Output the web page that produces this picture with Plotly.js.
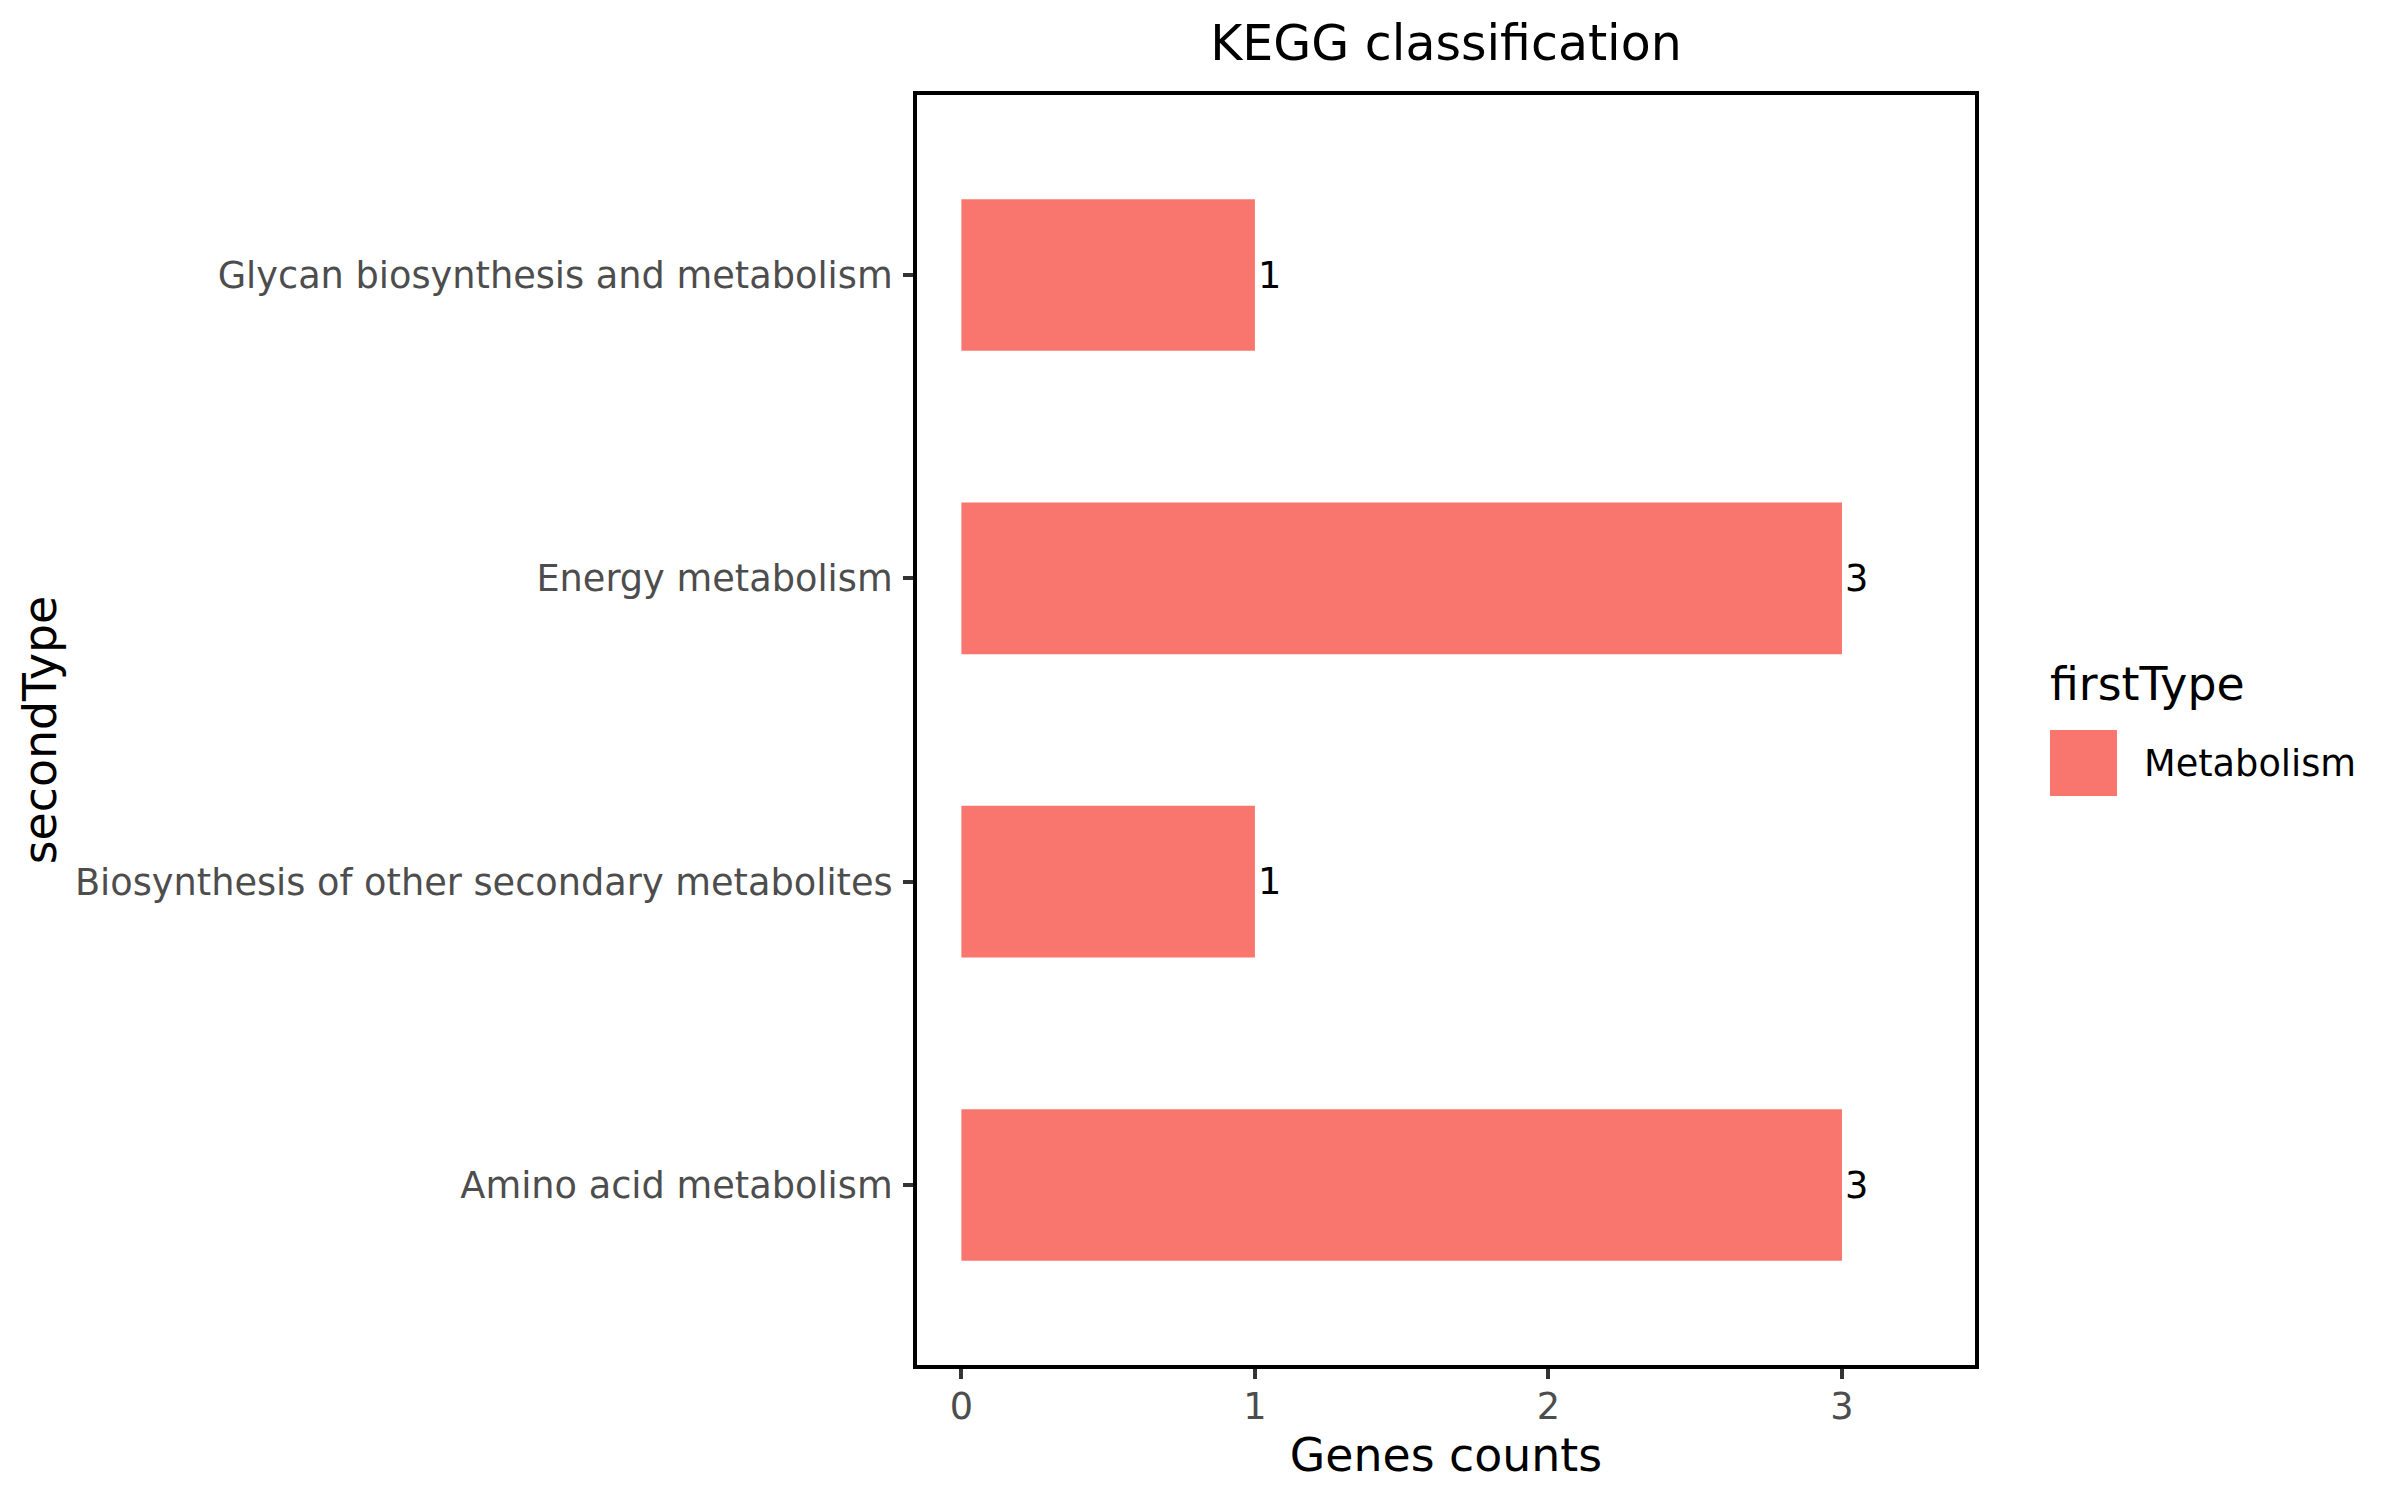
<!DOCTYPE html>
<html>
<head>
<meta charset="utf-8">
<script src="https://cdn.plot.ly/plotly-3.0.1.min.js"></script>
<style>html,body{margin:0;padding:0;background:#fff;}</style>
</head>
<body>
<div id="chart" style="width:2400px;height:1500px;"></div>
<script>
// ---- data ----
const categories = ["Amino acid metabolism", "Biosynthesis of other secondary metabolites", "Energy metabolism", "Glycan biosynthesis and metabolism"];
const counts = [3, 1, 3, 1];
const firstTypes = ["Metabolism", "Metabolism", "Metabolism", "Metabolism"];
const legendGroups = ["Metabolism"];
const xTicks = [0, 1, 2, 3];

// ---- layout geometry (pixels) ----
const W = 2400, H = 1500;
const L = 915, R = 1977, T = 93, B = 1367;
const PW = R - L, PH = B - T;
const px = x => (x - L) / PW;
const py = y => (B - y) / PH;
const FONT = "DejaVu Sans, Liberation Sans, sans-serif";
const fill = "#F8766D";

const trace = {
  type: "bar",
  orientation: "h",
  x: counts,
  y: categories,
  width: 0.5,
  name: legendGroups[0],
  customdata: firstTypes,
  marker: {color: fill, line: {width: 0}},
  text: counts.map(String),
  textposition: "outside",
  textfont: {family: FONT, size: 36.7, color: "#000000"},
  cliponaxis: false,
  showlegend: false,
  hoverinfo: "x+y"
};

const layout = {
  width: W, height: H,
  margin: {l: L, r: W - R, t: T, b: H - B, pad: 0},
  paper_bgcolor: "#ffffff",
  plot_bgcolor: "#ffffff",
  font: {family: FONT},
  title: {
    text: "KEGG classification",
    font: {family: FONT, size: 49, color: "#000000"},
    x: 0.5, xref: "paper", xanchor: "center",
    y: 1 - 43 / H, yref: "container", yanchor: "middle"
  },
  xaxis: {
    range: [-0.158, 3.46],
    tickvals: xTicks,
    ticktext: xTicks.map(String),
    ticks: "outside", ticklen: 11, tickwidth: 4, tickcolor: "#333333",
    ticklabelstandoff: -4,
    tickfont: {family: FONT, size: 36.7, color: "#4D4D4D"},
    showgrid: false, zeroline: false, showline: false,
    title: {text: "Genes counts", font: {family: FONT, size: 45.8, color: "#000000"}, standoff: 0}
  },
  yaxis: {
    type: "category",
    categoryorder: "array",
    categoryarray: categories,
    range: [-0.6, 3.6],
    ticks: "outside", ticklen: 11, tickwidth: 4, tickcolor: "#333333",
    ticklabelstandoff: 3,
    tickfont: {family: FONT, size: 36.7, color: "#4D4D4D"},
    showgrid: false, zeroline: false, showline: false,
    title: {text: "secondType", font: {family: FONT, size: 45.8, color: "#000000"}, standoff: 3}
  },
  shapes: [
    {type: "rect", xref: "paper", yref: "paper", x0: 0, x1: 1, y0: 0, y1: 1,
     line: {color: "#000000", width: 4}, fillcolor: "rgba(0,0,0,0)", layer: "above"},
    {type: "rect", xref: "paper", yref: "paper", x0: px(2050), x1: px(2117), y0: py(796), y1: py(730),
     line: {width: 0}, fillcolor: fill}
  ],
  annotations: [
    {text: "firstType", xref: "paper", yref: "paper", x: px(2048), y: py(684),
     xanchor: "left", yanchor: "middle", showarrow: false,
     font: {family: FONT, size: 45.8, color: "#000000"}},
    {text: legendGroups[0], xref: "paper", yref: "paper", x: px(2142), y: py(763),
     xanchor: "left", yanchor: "middle", showarrow: false,
     font: {family: FONT, size: 36.7, color: "#000000"}}
  ]
};

Plotly.newPlot("chart", [trace], layout, {displayModeBar: false, staticPlot: true});
</script>
</body>
</html>
